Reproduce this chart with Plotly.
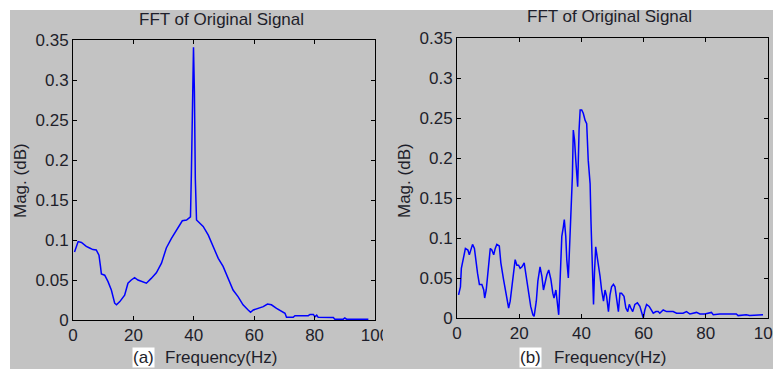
import plotly.graph_objects as go

# ---------------- data ----------------
freq_a = [0.5, 1.7, 2.8, 4.4, 5.5, 6.6, 7.7, 8.6, 9.1, 9.4, 10.5, 11.6, 12.7, 13.8, 14.4,
          15.5, 17.1, 18.2, 19.3, 20.4, 21.5, 23.2, 24.3, 25.9, 27.6, 29.3, 30.9, 32.6,
          34.3, 36.2, 37.6, 38.9, 39.2, 39.5, 39.9, 40.2, 40.5, 40.9, 41.4, 43.1, 44.8,
          46.4, 48.1, 49.7, 51.4, 53.0, 54.7, 56.3, 58.0, 58.8, 59.7, 61.3, 63.0, 64.4,
          65.7, 67.4, 69.0, 70.2, 70.7, 72.9, 73.5, 77.9, 78.5, 79.6, 80.1, 80.7, 81.2,
          86.2, 86.7, 89.5, 90.0, 90.6, 97.8]
mag_a = [0.085, 0.098, 0.097, 0.092, 0.090, 0.088, 0.0875, 0.081, 0.067, 0.0575, 0.056,
         0.048, 0.0375, 0.021, 0.019, 0.023, 0.031, 0.046, 0.050, 0.053, 0.050, 0.048,
         0.046, 0.052, 0.059, 0.071, 0.090, 0.102, 0.1125, 0.124, 0.125, 0.129, 0.183,
         0.287, 0.341, 0.286, 0.177, 0.125, 0.123, 0.117, 0.106, 0.092, 0.077, 0.067,
         0.052, 0.0375, 0.029, 0.019, 0.0125, 0.0096, 0.0125, 0.0146, 0.0167, 0.020,
         0.019, 0.0146, 0.0104, 0.0083, 0.0033, 0.0033, 0.0054, 0.0054, 0.007, 0.007,
         0.004, 0.006, 0.0033, 0.003, 0.001, 0.001, 0.0025, 0.001, 0.001]

freq_b = [0.5, 1.1, 1.4, 2.1, 2.7, 3.5, 3.96, 4.6, 5.0, 5.6, 5.9, 6.6, 7.2, 8.0, 8.6, 8.9,
          9.4, 10.2, 10.7, 11.2, 11.8, 12.3, 12.8, 13.6, 14.1, 14.97, 15.8, 16.6, 17.1,
          17.6, 18.2, 18.7, 19.25, 19.8, 20.3, 20.9, 21.6, 22.2, 23.0, 23.7, 24.4, 24.8,
          25.5, 26.0, 26.7, 27.3, 27.8, 28.3, 28.9, 29.5, 30.2, 30.8, 31.2, 31.8, 32.3,
          32.7, 33.2, 33.7, 34.2, 34.5, 34.97, 35.3, 35.8, 36.4, 36.7, 37.1, 37.4, 37.8,
          38.2, 38.5, 38.8, 39.25, 39.6, 40.1, 40.6, 41.2, 41.7, 42.2, 42.8, 43.1, 43.5,
          43.9, 44.2, 44.6, 44.9, 45.5, 46.0, 46.5, 47.1, 47.6, 48.1, 48.7, 49.2, 49.7,
          50.3, 50.8, 51.3, 51.9, 52.4, 52.9, 53.7, 54.3, 54.9, 55.4, 55.9, 56.5, 57.2,
          58.0, 58.8, 59.4, 59.9, 60.4, 60.96, 61.8, 62.6, 63.1, 63.96, 64.7, 65.2, 66.3,
          67.4, 68.4, 69.5, 70.6, 72.7, 73.8, 74.9, 75.9, 77.0, 78.1, 79.7, 81.8, 82.4,
          84.5, 89.8, 90.4, 93.0, 94.1, 98.4]
mag_b = [0.029, 0.039, 0.062, 0.077, 0.087, 0.085, 0.079, 0.087, 0.092, 0.087, 0.077,
         0.056, 0.042, 0.042, 0.035, 0.025, 0.035, 0.069, 0.087, 0.085, 0.079, 0.087,
         0.092, 0.090, 0.069, 0.048, 0.027, 0.0125, 0.021, 0.039, 0.060, 0.073, 0.066,
         0.066, 0.062, 0.064, 0.069, 0.052, 0.031, 0.0145, 0.004, 0.002, 0.021, 0.046,
         0.064, 0.052, 0.035, 0.046, 0.054, 0.060, 0.048, 0.031, 0.025, 0.035, 0.021,
         0.004, 0.052, 0.102, 0.114, 0.123, 0.102, 0.073, 0.050, 0.106, 0.131, 0.177,
         0.235, 0.222, 0.197, 0.183, 0.164, 0.235, 0.260, 0.260, 0.256, 0.247, 0.243,
         0.197, 0.168, 0.118, 0.062, 0.017, 0.056, 0.089, 0.081, 0.066, 0.052, 0.035,
         0.021, 0.035, 0.027, 0.008, 0.029, 0.039, 0.042, 0.039, 0.021, 0.008, 0.031,
         0.031, 0.027, 0.0125, 0.008, 0.017, 0.0125, 0.008, 0.017, 0.019, 0.0145, 0.008,
         0.0, 0.010, 0.017, 0.0145, 0.010, 0.006, 0.008, 0.008, 0.006, 0.010, 0.008,
         0.008, 0.008, 0.006, 0.006, 0.008, 0.005, 0.006, 0.007, 0.005, 0.005, 0.007,
         0.004, 0.005, 0.005, 0.003, 0.004, 0.003, 0.004]

x_ticks = [0, 20, 40, 60, 80, 100]
x_ticklabels = ["0", "20", "40", "60", "80", "100"]
y_ticks = [0, 0.05, 0.1, 0.15, 0.2, 0.25, 0.3, 0.35]
y_ticklabels = ["0", "0.05", "0.1", "0.15", "0.2", "0.25", "0.3", "0.35"]

title_text = "FFT of Original Signal"
xlabel_text = "Frequency(Hz)"
ylabel_text = "Mag. (dB)"
panel_tags = ["(a)", "(b)"]

# ---------------- layout helpers ----------------
# the page body has an 8px margin, so the figure is shrunk and all screen
# pixel positions are offset by it
OFF = 8
W, H = 781 - OFF, 369 - OFF
def px(x):
    return (x - OFF) / W
def py(y):
    return 1 - (y - OFF) / H

FONT = "Liberation Sans, Arial, sans-serif"
TXT = "#1e1e2a"
GRAY = "#c3c3c3"

fig = go.Figure()
fig.add_trace(go.Scatter(x=freq_a, y=mag_a, mode="lines",
                         line=dict(color="#0000ff", width=1.5), xaxis="x", yaxis="y",
                         showlegend=False))
fig.add_trace(go.Scatter(x=freq_b, y=mag_b, mode="lines",
                         line=dict(color="#0000ff", width=1.5), xaxis="x2", yaxis="y2",
                         showlegend=False))

axis_common = dict(showline=True, linecolor="black", linewidth=1, mirror="ticks",
                   ticks="inside", ticklen=4, tickcolor="black", tickwidth=1,
                   showgrid=False, zeroline=False, automargin=False,
                   ticklabeloverflow="allow",
                   tickfont=dict(family=FONT, size=17, color=TXT))

pl = dict(x0=73, x1=375, y0=40, y1=320)
pr = dict(x0=457, x1=768, y0=38, y1=318)

fig.update_layout(
    width=W, height=H,
    margin=dict(l=0, r=0, t=0, b=0, pad=0, autoexpand=False),
    paper_bgcolor="white", plot_bgcolor="white",
    xaxis=dict(domain=[px(pl["x0"]), px(pl["x1"])], range=[0, 100],
               tickvals=x_ticks, ticktext=x_ticklabels, anchor="y", **axis_common),
    yaxis=dict(domain=[py(pl["y1"]), py(pl["y0"])], range=[0, 0.35],
               tickvals=y_ticks, ticktext=y_ticklabels, anchor="x", **axis_common),
    xaxis2=dict(domain=[px(pr["x0"]), px(pr["x1"])], range=[0, 100],
                tickvals=x_ticks, ticktext=x_ticklabels, anchor="y2", **axis_common),
    yaxis2=dict(domain=[py(pr["y1"]), py(pr["y0"])], range=[0, 0.35],
                tickvals=y_ticks, ticktext=y_ticklabels, anchor="x2", **axis_common),
    shapes=[
        dict(type="rect", xref="paper", yref="paper", x0=px(10), x1=1, y0=0, y1=py(10),
             fillcolor=GRAY, line=dict(width=0), layer="below"),
        # right-hand figure overlapping the left figure's last tick label
        dict(type="rect", xref="paper", yref="paper", x0=px(383), x1=px(394),
             y0=py(346), y1=py(324), fillcolor=GRAY, line=dict(width=0), layer="above"),
    ],
)

ann = []
font = dict(family=FONT, size=17, color=TXT)
# titles
ann.append(dict(text=title_text, x=px(221), y=py(19), xref="paper", yref="paper",
                showarrow=False, font=font, xanchor="center", yanchor="middle"))
ann.append(dict(text=title_text, x=px(609), y=py(16), xref="paper", yref="paper",
                showarrow=False, font=font, xanchor="center", yanchor="middle"))
# y labels
ann.append(dict(text=ylabel_text, x=px(20), y=py(181), xref="paper", yref="paper",
                showarrow=False, font=font, textangle=-90, xanchor="center", yanchor="middle"))
ann.append(dict(text=ylabel_text, x=px(404), y=py(181), xref="paper", yref="paper",
                showarrow=False, font=font, textangle=-90, xanchor="center", yanchor="middle"))
# x labels
ann.append(dict(text=xlabel_text, x=px(163), y=py(357), xref="paper", yref="paper",
                showarrow=False, font=font, xanchor="left", yanchor="middle"))
ann.append(dict(text=xlabel_text, x=px(552), y=py(357), xref="paper", yref="paper",
                showarrow=False, font=font, xanchor="left", yanchor="middle"))
# panel tags with white background
ann.append(dict(text=panel_tags[0], x=px(143), y=py(357), xref="paper", yref="paper",
                showarrow=False, font=font, xanchor="center", yanchor="middle",
                bgcolor="white", borderpad=0))
ann.append(dict(text=panel_tags[1], x=px(530), y=py(357), xref="paper", yref="paper",
                showarrow=False, font=font, xanchor="center", yanchor="middle",
                bgcolor="white", borderpad=0))
fig.update_layout(annotations=ann)

fig.write_html("out.html")
